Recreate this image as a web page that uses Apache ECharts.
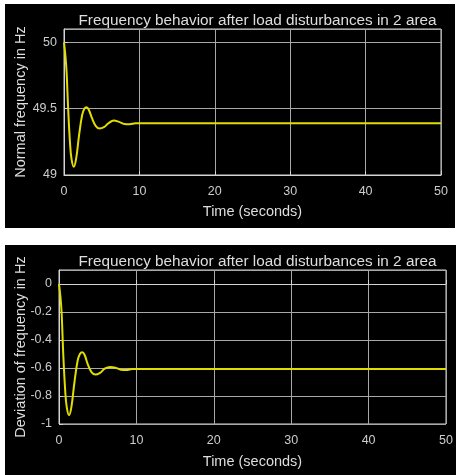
<!DOCTYPE html>
<html>
<head>
<meta charset="utf-8">
<script src="https://cdn.jsdelivr.net/npm/echarts@6/dist/echarts.min.js"></script>
<style>
	html, body { margin: 0; padding: 0; background: #fff; }
	.panel { position: absolute; background: #000; }
	#top { left: 5px; top: 4px; width: 450px; height: 224px; }
	#bottom { left: 5px; top: 245px; width: 451px; height: 230px; }
</style>
</head>
<body>
<div id="top" class="panel"></div>
<div id="bottom" class="panel"></div>
<script>
// time samples (seconds)
var time = [0, 0.2, 0.35, 0.55, 0.8, 1.0, 1.3, 1.6, 2.0, 2.4, 2.7, 3.0, 3.3, 3.7, 4.2, 4.7, 5.3, 5.9, 6.6, 7.3, 8.0, 8.7, 9.5, 11, 15, 20, 30, 40, 50];
// top plot: frequency in Hz
var freqHz = [50, 49.89, 49.77, 49.5, 49.24, 49.12, 49.063, 49.12, 49.3, 49.45, 49.5, 49.51, 49.49, 49.43, 49.37, 49.35, 49.36, 49.39, 49.41, 49.4, 49.385, 49.383, 49.39, 49.39, 49.39, 49.39, 49.39, 49.39, 49.39];
// bottom plot: deviation of frequency in Hz
var devHz = [0, -0.1, -0.22, -0.5, -0.76, -0.88, -0.937, -0.88, -0.7, -0.55, -0.5, -0.488, -0.505, -0.57, -0.63, -0.647, -0.635, -0.605, -0.592, -0.598, -0.612, -0.614, -0.607, -0.607, -0.607, -0.607, -0.607, -0.607, -0.607];
var xTicks = [0, 10, 20, 30, 40, 50];

var titleText = 'Frequency behavior after load disturbances in 2 area';
var txt = '#dedede', lblCol = '#cccccc', gridCol = '#a8a8a8', boxCol = '#d4d4d4';

function zip(xs, ys) {
	var out = [];
	for (var i = 0; i < xs.length; i++) out.push([xs[i], ys[i]]);
	return out;
}

function makeOption(grid, yName, yMin, yMax, yInt, data, yGap, xGap) {
	return {
		animation: false,
		backgroundColor: '#000',
		textStyle: { fontFamily: 'Liberation Sans, Arial, sans-serif' },
		title: {
			text: titleText,
			left: grid.left + grid.width / 2,
			textAlign: 'center',
			top: 4,
			textStyle: { color: txt, fontSize: 15.3, fontWeight: 'normal', fontFamily: 'Liberation Sans' }
		},
		grid: {
			left: grid.left, top: grid.top, width: grid.width, height: grid.height,
			outerBoundsMode: 'none', containLabel: false,
			show: true, borderColor: boxCol, borderWidth: 1, backgroundColor: '#000'
		},
		xAxis: {
			type: 'value', min: xTicks[0], max: xTicks[xTicks.length - 1], interval: 10,
			name: 'Time (seconds)', nameLocation: 'middle', nameGap: xGap,
			nameTextStyle: { color: txt, fontSize: 14.5, fontFamily: 'Liberation Sans' },
			axisLine: { lineStyle: { color: boxCol } },
			axisTick: { inside: true, length: 4, lineStyle: { color: boxCol } },
			axisLabel: { color: lblCol, fontSize: 12.5, margin: 10, fontFamily: 'Liberation Sans' },
			splitLine: { show: true, lineStyle: { color: gridCol, width: 1 } }
		},
		yAxis: {
			type: 'value', min: yMin, max: yMax, interval: yInt,
			name: yName, nameLocation: 'middle', nameGap: yGap, nameMoveOverlap: false,
			nameTextStyle: { color: txt, fontSize: 14.5, fontFamily: 'Liberation Sans' },
			axisLine: { show: true, lineStyle: { color: boxCol } },
			axisTick: { show: true, inside: true, length: 4, lineStyle: { color: boxCol } },
			axisLabel: { color: lblCol, fontSize: 12.5, margin: 7, showMaxLabel: false, fontFamily: 'Liberation Sans' },
			splitLine: { show: true, lineStyle: { color: gridCol, width: 1 } }
		},
		series: [{
			type: 'line',
			data: data,
			smooth: 0.4,
			showSymbol: false,
			lineStyle: { color: '#e0de00', width: 2 }
		}]
	};
}

var topChart = echarts.init(document.getElementById('top'));
topChart.setOption(makeOption({ left: 59, top: 25, width: 377, height: 146 },
	'Normal frequency in Hz', 49, 50.1, 0.5, zip(time, freqHz), 36, 29));

var bottomChart = echarts.init(document.getElementById('bottom'));
bottomChart.setOption(makeOption({ left: 54, top: 25, width: 387, height: 154 },
	'Deviation of frequency in Hz', -1, 0.1, 0.2, zip(time, devHz), 31, 30));
</script>
</body>
</html>
